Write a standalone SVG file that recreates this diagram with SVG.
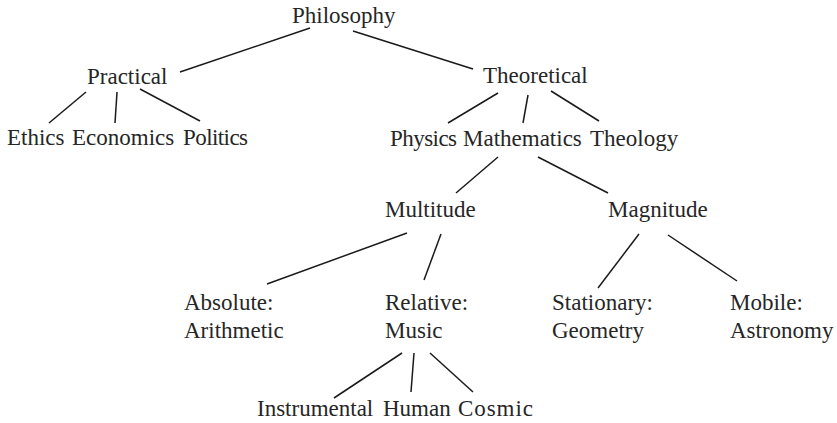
<svg xmlns="http://www.w3.org/2000/svg" width="837" height="423" viewBox="0 0 837 423">
<style>
.c line{stroke:#1a1a1a;stroke-width:1.5;stroke-linecap:butt}
</style>
<rect width="837" height="423" fill="#fff"/>
<g class="c" id="connectors">
<line x1="310" y1="28" x2="180" y2="72"/>
<line x1="353" y1="31" x2="473" y2="69"/>
<line x1="86" y1="92" x2="49" y2="123"/>
<line x1="117" y1="92" x2="115" y2="123"/>
<line x1="140" y1="89" x2="200" y2="121"/>
<line x1="498" y1="93" x2="448" y2="123"/>
<line x1="528" y1="95" x2="523" y2="123"/>
<line x1="551" y1="91" x2="599" y2="121"/>
<line x1="498" y1="157" x2="456" y2="193"/>
<line x1="538" y1="157" x2="608" y2="193"/>
<line x1="407" y1="233" x2="267" y2="284"/>
<line x1="441" y1="234" x2="424" y2="280"/>
<line x1="639" y1="234" x2="598" y2="288"/>
<line x1="668" y1="235" x2="737" y2="281"/>
<line x1="402" y1="353" x2="334" y2="398"/>
<line x1="414" y1="353" x2="411" y2="392"/>
<line x1="430" y1="353" x2="473" y2="392"/>
</g>
<g font-family="Liberation Serif" font-size="23" fill="#262626">
<g id="philosophy"><text x="292" y="23">Philosophy</text></g>
<g id="practical"><text x="87" y="84">Practical</text></g>
<g id="theoretical"><text x="483" y="83">Theoretical</text></g>
<g id="ethics"><text x="7" y="145">Ethics</text></g>
<g id="economics"><text x="72" y="145">Economics</text></g>
<g id="politics"><text x="183" y="145" textLength="65" lengthAdjust="spacing">Politics</text></g>
<g id="physics"><text x="390" y="146" textLength="67" lengthAdjust="spacing">Physics</text></g>
<g id="mathematics"><text x="463" y="146">Mathematics</text></g>
<g id="theology"><text x="590" y="146">Theology</text></g>
<g id="multitude"><text x="385" y="217">Multitude</text></g>
<g id="magnitude"><text x="608" y="217">Magnitude</text></g>
<g id="absolute"><text x="184" y="310">Absolute:</text><text x="184" y="338">Arithmetic</text></g>
<g id="relative"><text x="385" y="310">Relative:</text><text x="385" y="338">Music</text></g>
<g id="stationary"><text x="552" y="310">Stationary:</text><text x="552" y="338">Geometry</text></g>
<g id="mobile"><text x="730" y="310">Mobile:</text><text x="730" y="338">Astronomy</text></g>
<g id="instrumental"><text x="257" y="416">Instrumental</text></g>
<g id="human"><text x="383" y="416">Human</text></g>
<g id="cosmic"><text x="458" y="416" textLength="75" lengthAdjust="spacing">Cosmic</text></g>
</g>
</svg>
